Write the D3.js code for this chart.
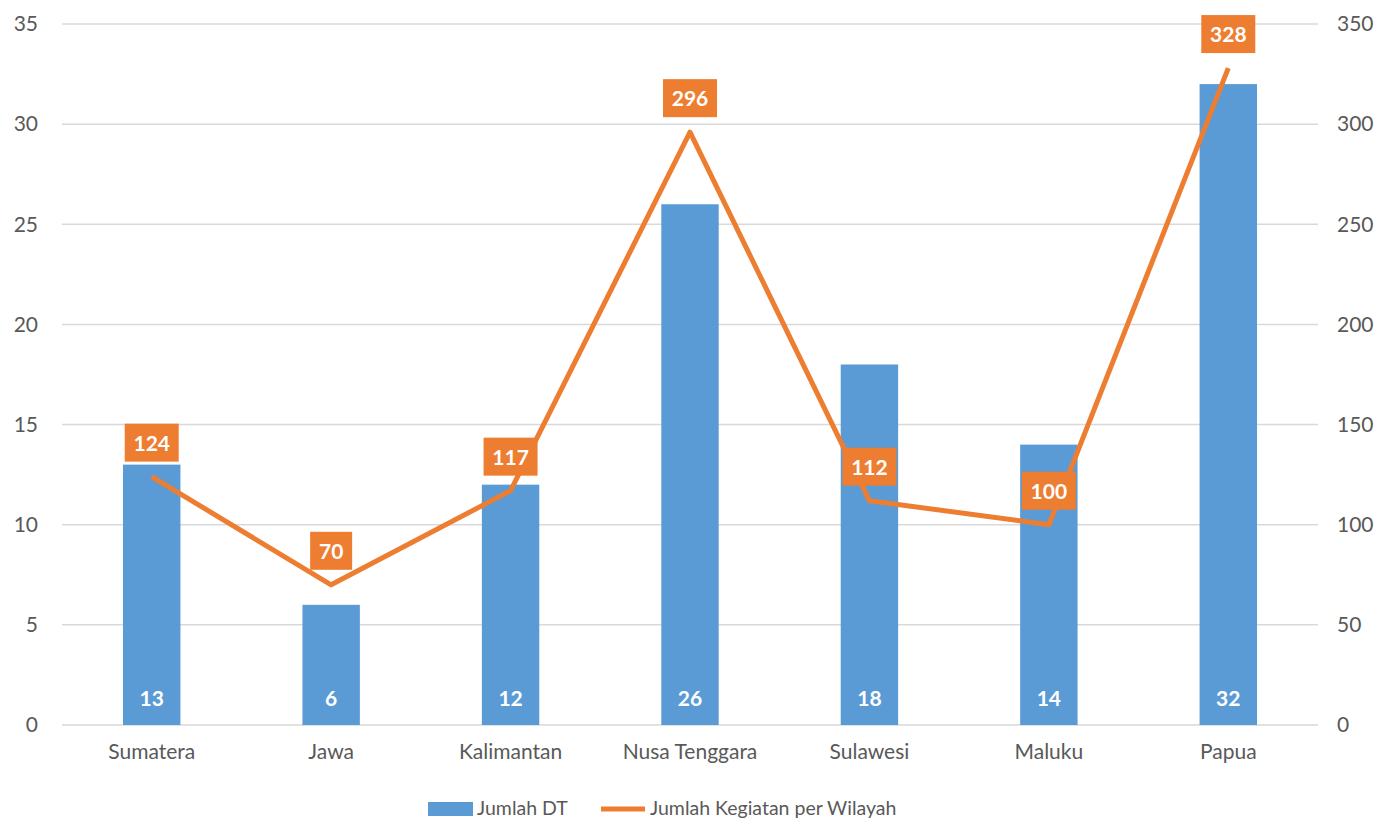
<!DOCTYPE html>
<html>
<head>
<meta charset="utf-8">
<script src="https://cdn.jsdelivr.net/npm/d3@7"></script>
<style>
  body { margin: 0; background: #fff; }
  text { font-family: Lato, "Open Sans", sans-serif; }
</style>
</head>
<body>
<div class="graph"></div>
<script>
// data
const regions = ["Sumatera", "Jawa", "Kalimantan", "Nusa Tenggara", "Sulawesi", "Maluku", "Papua"];
const jumlahDT = [13, 6, 12, 26, 18, 14, 32];
const jumlahKegiatan = [124, 70, 117, 296, 112, 100, 328];
const leftTicks = [0, 5, 10, 15, 20, 25, 30, 35];
const rightTicks = [0, 50, 100, 150, 200, 250, 300, 350];

// dimensions
const W = 1381, H = 819;
const margin = { top: 24, right: 63, bottom: 94, left: 62 };
const width = W - margin.left - margin.right;
const height = H - margin.top - margin.bottom;

const blue = "#5B9BD5";
const orange = "#ED7D31";
const textColour = "#595959";
const axisFont = "21px";

const svg = d3.select(".graph")
    .append("svg")
    .attr("width", W)
    .attr("height", H);

const g = svg.append("g")
    .attr("transform", "translate(" + margin.left + "," + margin.top + ")");

const x = d3.scaleBand().domain(regions).range([0, width]).paddingInner(0.68).paddingOuter(0.34);
const yL = d3.scaleLinear().domain([0, 35]).range([height, 0]);
const yR = d3.scaleLinear().domain([0, 350]).range([height, 0]);

// gridlines
g.selectAll(".grid")
    .data(leftTicks)
    .enter().append("line")
    .attr("x1", 0).attr("x2", width)
    .attr("y1", d => yL(d)).attr("y2", d => yL(d))
    .attr("stroke", "#d9d9d9").attr("stroke-width", 1.5);

// left axis
const axL = g.append("g").call(d3.axisLeft(yL).tickValues(leftTicks).tickSize(0).tickPadding(24));
axL.select(".domain").remove();
axL.selectAll("text").style("font-size", axisFont).style("fill", textColour).style("font-family", "Lato, sans-serif");

// right axis
const axR = g.append("g").attr("transform", "translate(" + width + ",0)")
    .call(d3.axisRight(yR).tickValues(rightTicks).tickSize(0).tickPadding(19));
axR.select(".domain").remove();
axR.selectAll("text").style("font-size", axisFont).style("fill", textColour).style("font-family", "Lato, sans-serif");

// bottom axis labels
const axB = g.append("g").attr("transform", "translate(0," + height + ")")
    .call(d3.axisBottom(x).tickSize(0).tickPadding(19));
axB.select(".domain").remove();
axB.selectAll("text").style("font-size", axisFont).style("fill", textColour).style("font-family", "Lato, sans-serif");

// bars
g.selectAll(".bar")
    .data(jumlahDT)
    .enter().append("rect")
    .attr("x", (d, i) => x(regions[i]))
    .attr("y", d => yL(d))
    .attr("width", x.bandwidth())
    .attr("height", d => height - yL(d))
    .attr("fill", blue);

g.selectAll(".barLabel")
    .data(jumlahDT)
    .enter().append("text")
    .attr("x", (d, i) => x(regions[i]) + x.bandwidth() / 2)
    .attr("y", height - 19)
    .attr("text-anchor", "middle")
    .style("font-size", "21px").style("font-weight", "bold").style("fill", "#fff")
    .text(d => d);

// line
const line = d3.line()
    .x((d, i) => x(regions[i]) + x.bandwidth() / 2)
    .y(d => yR(d));

g.append("path")
    .datum(jumlahKegiatan)
    .attr("d", line)
    .attr("fill", "none")
    .attr("stroke", orange)
    .attr("stroke-width", 5)
    .attr("stroke-linejoin", "round");

// line labels
const boxes = g.selectAll(".lineLabel")
    .data(jumlahKegiatan)
    .enter().append("g")
    .attr("transform", (d, i) => "translate(" + (x(regions[i]) + x.bandwidth() / 2) + "," + (yR(d) - 15) + ")");

boxes.append("rect")
    .attr("x", d => d >= 100 ? -27 : -21)
    .attr("y", -38)
    .attr("width", d => d >= 100 ? 54 : 42)
    .attr("height", 38)
    .attr("fill", orange);

boxes.append("text")
    .attr("y", -11)
    .attr("text-anchor", "middle")
    .style("font-size", "21px").style("font-weight", "bold").style("fill", "#fff")
    .text(d => d);

// legend
const legend = svg.append("g").attr("transform", "translate(0,808)");
legend.append("rect").attr("x", 428).attr("y", -6).attr("width", 45).attr("height", 14).attr("fill", blue);
legend.append("text").attr("x", 477).attr("y", 7).style("font-size", "19.5px").style("fill", textColour).text("Jumlah DT");
legend.append("line").attr("x1", 601).attr("x2", 645).attr("y1", 1).attr("y2", 1)
    .attr("stroke", orange).attr("stroke-width", 5);
legend.append("text").attr("x", 650).attr("y", 7).style("font-size", "19.5px").style("fill", textColour).text("Jumlah Kegiatan per Wilayah");
</script>
</body>
</html>
